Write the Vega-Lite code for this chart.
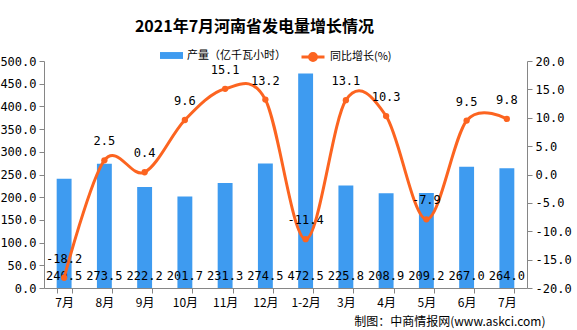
{
  "$schema": "https://vega.github.io/schema/vega-lite/v6.json",
  "width": 483,
  "height": 227,
  "autosize": {"type": "none"},
  "padding": {"left": 44, "top": 61, "right": 50, "bottom": 42},
  "background": "white",
  "title": {
    "text": "2021年7月河南省发电量增长情况",
    "font": "Noto Sans CJK SC",
    "fontSize": 16,
    "fontWeight": "bold",
    "color": "#000000",
    "anchor": "start",
    "dx": 135,
    "offset": 9
  },
  "config": {
    "view": {"stroke": null},
    "locale": {"number": {"decimal": ".", "thousands": ",", "grouping": [3], "currency": ["", ""], "minus": "-"}},
    "axis": {
      "domainColor": "#868686",
      "tickColor": "#868686",
      "labelColor": "#000000",
      "grid": false,
      "labelFont": "DejaVu Sans Mono",
      "labelFontSize": 12
    }
  },
  "data": {
    "values": [
      {"月份": "2020年7月", "产量": 240.5, "增长": -18.2},
      {"月份": "2020年8月", "产量": 273.5, "增长": 2.5},
      {"月份": "2020年9月", "产量": 222.2, "增长": 0.4},
      {"月份": "2020年10月", "产量": 201.7, "增长": 9.6},
      {"月份": "2020年11月", "产量": 231.3, "增长": 15.1},
      {"月份": "2020年12月", "产量": 274.5, "增长": 13.2},
      {"月份": "2021年1-2月", "产量": 472.5, "增长": -11.4},
      {"月份": "2021年3月", "产量": 225.8, "增长": 13.1},
      {"月份": "2021年4月", "产量": 208.9, "增长": 10.3},
      {"月份": "2021年5月", "产量": 209.2, "增长": -7.9},
      {"月份": "2021年6月", "产量": 267.0, "增长": 9.5},
      {"月份": "2021年7月", "产量": 264.0, "增长": 9.8}
    ]
  },
  "encoding": {
    "x": {
      "field": "月份",
      "type": "nominal",
      "sort": null,
      "scale": {"paddingInner": 0.63, "paddingOuter": 0.315},
      "axis": {
        "labelExpr": "slice(datum.label, 5)",
        "labelAngle": 0,
        "labelFont": "Noto Sans CJK SC",
        "labelFontSize": 12,
        "tickBand": "extent",
        "tickSize": 5,
        "labelPadding": 4,
        "title": "制图：中商情报网(www.askci.com)",
        "titleFont": "Noto Sans CJK SC",
        "titleFontSize": 12,
        "titleFontWeight": "normal",
        "titleColor": "#000000",
        "titleAnchor": "end",
        "titleAlign": "right",
        "titleBaseline": "alphabetic",
        "titleX": 501,
        "titleY": 37
      }
    }
  },
  "layer": [
    {
      "encoding": {
        "y": {
          "field": "产量",
          "type": "quantitative",
          "scale": {"domain": [0, 500], "nice": false},
          "axis": {
            "orient": "left",
            "title": null,
            "values": [0, 50, 100, 150, 200, 250, 300, 350, 400, 450, 500],
            "format": ".1f",
            "tickSize": 5,
            "labelPadding": 3
          }
        }
      },
      "layer": [
        {
          "mark": {"type": "bar"},
          "encoding": {
            "fill": {
              "datum": "产量（亿千瓦小时）",
              "type": "nominal",
              "scale": {"range": ["#3E9BF0"]},
              "legend": {
                "orient": "none",
                "legendX": 116,
                "legendY": -17,
                "title": null,
                "symbolType": "M-1,-0.3H1V0.3H-1Z",
                "symbolSize": 529,
                "symbolStrokeWidth": 0,
                "labelFont": "Noto Sans CJK SC",
                "labelFontSize": 11,
                "labelColor": "#000000"
              }
            }
          }
        },
        {
          "mark": {"type": "text", "baseline": "bottom", "dy": -5, "font": "DejaVu Sans Mono", "fontSize": 12, "color": "#000000"},
          "encoding": {
            "y": {"datum": 0},
            "text": {"field": "产量", "type": "quantitative", "format": ".1f"}
          }
        }
      ]
    },
    {
      "encoding": {
        "y": {
          "field": "增长",
          "type": "quantitative",
          "scale": {"domain": [-20, 20], "nice": false},
          "axis": {
            "orient": "right",
            "title": null,
            "values": [-20, -15, -10, -5, 0, 5, 10, 15, 20],
            "format": ".1f",
            "tickSize": 5,
            "labelPadding": 3
          }
        }
      },
      "layer": [
        {
          "mark": {"type": "line", "interpolate": "cardinal", "strokeWidth": 3},
          "encoding": {
            "stroke": {
              "datum": "同比增长(%)",
              "type": "nominal",
              "scale": {"range": ["#FC6420"]},
              "legend": {
                "orient": "none",
                "legendX": 256,
                "legendY": -17,
                "title": null,
                "symbolType": "M-1,0H1M0.3,0A0.3,0.3,0,1,1,-0.3,0A0.3,0.3,0,1,1,0.3,0",
                "symbolSize": 529,
                "symbolStrokeWidth": 3,
                "symbolFillColor": "#FC6420",
                "labelFont": "Noto Sans CJK SC",
                "labelFontSize": 11,
                "labelColor": "#000000"
              }
            }
          }
        },
        {
          "mark": {"type": "point", "filled": true, "size": 40, "opacity": 1, "color": "#FC6420"},
          "encoding": {}
        },
        {
          "mark": {"type": "text", "baseline": "bottom", "dy": -12, "font": "DejaVu Sans Mono", "fontSize": 12, "color": "#000000"},
          "encoding": {
            "text": {"field": "增长", "type": "quantitative", "format": ".1f"}
          }
        }
      ]
    }
  ],
  "resolve": {"scale": {"y": "independent"}}
}
